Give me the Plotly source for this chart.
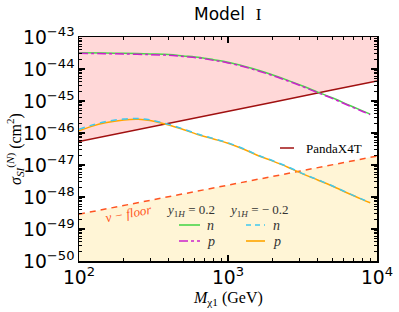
import plotly.graph_objects as go

# ---------------- data ----------------
mass = [100, 150, 200, 300, 400, 500, 650, 800, 1000, 1300, 1600, 2000, 2500,
        3200, 4000, 5000, 6500, 8000, 9000]
mass_low = [100, 120, 150, 200, 250, 300, 400, 500, 650, 800, 1000, 1300, 1600,
            2000, 2500, 3200, 4000, 5000, 6500, 8000, 9000]

# y_1H = 0.2
sig_n_pos = [3.24e-44, 3.16e-44, 3.09e-44, 2.95e-44, 2.82e-44, 2.57e-44, 2.29e-44,
             1.95e-44, 1.62e-44, 1.20e-44, 9.1e-45, 6.5e-45, 4.5e-45, 2.9e-45,
             1.9e-45, 1.26e-45, 7.4e-46, 4.9e-46, 3.9e-46]
sig_p_pos = [3.08e-44, 3.01e-44, 2.95e-44, 2.81e-44, 2.69e-44, 2.45e-44, 2.19e-44,
             1.86e-44, 1.55e-44, 1.15e-44, 8.7e-45, 6.2e-45, 4.3e-45, 2.78e-45,
             1.82e-45, 1.21e-45, 7.1e-46, 4.7e-46, 3.75e-46]
# y_1H = -0.2
sig_n_neg = [1.30e-46, 1.73e-46, 2.26e-46, 2.74e-46, 2.84e-46, 2.57e-46, 1.86e-46,
             1.34e-46, 8.8e-47, 6.7e-47, 4.95e-47, 3.1e-47, 2.0e-47, 1.36e-47,
             8.9e-48, 5.3e-48, 3.47e-48, 2.24e-48, 1.28e-48, 8.4e-49, 6.7e-49]
sig_p_neg = [1.175e-46, 1.585e-46, 2.09e-46, 2.57e-46, 2.69e-46, 2.45e-46, 1.78e-46,
             1.29e-46, 8.5e-47, 6.5e-47, 4.8e-47, 3.0e-47, 1.95e-47, 1.32e-47,
             8.7e-48, 5.2e-48, 3.4e-48, 2.2e-48, 1.26e-48, 8.3e-49, 6.6e-49]

pandax_mass = [100, 200, 500, 1000, 2000, 5000, 10000]
pandax_sig = [5.4e-47, 1.03e-46, 2.45e-46, 4.8e-46, 9.2e-46, 2.2e-45, 4.2e-45]

nu_mass = [100, 1000, 10000]
nu_sig = [2.9e-49, 2.3e-48, 1.9e-47]

Y_TOP = 1e-43
Y_BOT = 1e-50

# ---------------- styles ----------------
C_GREEN = "#4CD64C"
C_MAG = "#CC22CC"
C_CYAN = "#3FC8F0"
C_ORANGE = "#FFA500"
C_RED = "#A01010"
C_NU = "#FF5522"
C_PINK = "#FFD8D8"
C_YEL = "#FFF5D6"

fig = go.Figure()

# shaded regions
fig.add_trace(go.Scatter(
    x=pandax_mass + pandax_mass[::-1],
    y=pandax_sig + [Y_TOP] * len(pandax_mass),
    fill="toself", fillcolor=C_PINK, line=dict(width=0), mode="lines",
    hoverinfo="skip", showlegend=False))
fig.add_trace(go.Scatter(
    x=nu_mass + nu_mass[::-1],
    y=nu_sig + [Y_BOT] * len(nu_mass),
    fill="toself", fillcolor=C_YEL, line=dict(width=0), mode="lines",
    hoverinfo="skip", showlegend=False))

# limits
fig.add_trace(go.Scatter(x=pandax_mass, y=pandax_sig, mode="lines",
                         line=dict(color=C_RED, width=1.5), showlegend=False))
fig.add_trace(go.Scatter(x=nu_mass, y=nu_sig, mode="lines",
                         line=dict(color=C_NU, width=1.5, dash="6px,5px"), showlegend=False))

# model curves
fig.add_trace(go.Scatter(x=mass, y=sig_n_pos, mode="lines", line_shape="spline",
                         line=dict(color=C_GREEN, width=1.5), showlegend=False))
fig.add_trace(go.Scatter(x=mass, y=sig_p_pos, mode="lines", line_shape="spline",
                         line=dict(color=C_MAG, width=1.5, dash="dashdot"), showlegend=False))
fig.add_trace(go.Scatter(x=mass_low, y=sig_p_neg, mode="lines", line_shape="spline",
                         line=dict(color=C_ORANGE, width=1.5), showlegend=False))
fig.add_trace(go.Scatter(x=mass_low, y=sig_n_neg, mode="lines", line_shape="spline",
                         line=dict(color=C_CYAN, width=1.5, dash="6px,5px"), showlegend=False))

# ---------------- axes ----------------
axis_common = dict(
    type="log", showline=True, linecolor="black", linewidth=1.5, mirror="allticks",
    ticks="inside", ticklen=6, tickwidth=1.2, tickcolor="black",
    showgrid=False, zeroline=False, dtick=1, exponentformat="power",
    automargin=False,
    tickfont=dict(family="DejaVu Sans", size=15, color="black"),
    minor=dict(ticks="inside", ticklen=3, tickwidth=1, tickcolor="black",
               showgrid=False, dtick="D1"),
)
fig.update_xaxes(**axis_common, range=[2, 4])
fig.update_yaxes(**axis_common, range=[-50, -43])


def px_x(p):
    return (p - 79) / 298.0


def px_y(p):
    return (261 - p) / 224.0


# ---------------- annotations & legend ----------------
ann = []
ann.append(dict(xref="paper", yref="paper", x=0.5, y=px_y(14), showarrow=False,
                text="Model  <span style='font-family:Liberation Serif'>I</span>",
                font=dict(family="DejaVu Sans", size=17, color="black"),
                xanchor="center", yanchor="middle"))
# axis titles
ann.append(dict(xref="paper", yref="paper", x=0.5, y=px_y(298), showarrow=False,
                text="<i>M</i><sub>χ1</sub> (GeV)", xanchor="center", yanchor="middle",
                font=dict(family="Liberation Serif", size=16, color="black")))
ann.append(dict(xref="paper", yref="paper", x=px_x(15), y=0.5, showarrow=False,
                text="<i>σ</i><sub><i>SI</i></sub><sup>(<i>N</i>)</sup> (cm<sup>2</sup>)",
                textangle=-90, xanchor="center", yanchor="middle",
                font=dict(family="Liberation Serif", size=16, color="black")))
ann.append(dict(xref="x", yref="y", x=2.33, y=-48.5, showarrow=False,
                text="<i>ν − floor</i>", textangle=-11,
                font=dict(family="Liberation Serif", size=13, color=C_NU)))

serif = dict(family="Liberation Serif", size=13, color="black")
serif_s = dict(family="Liberation Serif", size=13, color="#333333")

# PandaX4T
shapes = []
shapes.append(dict(type="line", xref="paper", yref="paper",
                   x0=px_x(280), x1=px_x(294), y0=px_y(148), y1=px_y(148),
                   line=dict(color=C_RED, width=1.5)))
ann.append(dict(xref="paper", yref="paper", x=px_x(304), y=px_y(148), text="PandaX4T",
                showarrow=False, xanchor="left", yanchor="middle", font=serif))

# y_1H legend
ann.append(dict(xref="paper", yref="paper", x=px_x(190), y=px_y(210),
                text="<i>y</i><sub>1<i>H</i></sub> = 0.2", showarrow=False,
                xanchor="center", yanchor="middle", font=serif_s))
ann.append(dict(xref="paper", yref="paper", x=px_x(259), y=px_y(210),
                text="<i>y</i><sub>1<i>H</i></sub> = − 0.2", showarrow=False,
                xanchor="center", yanchor="middle", font=serif_s))
legend_items = [
    (179, 200, 225, C_GREEN, "solid", "n", 205),
    (179, 200, 241, C_MAG, "dashdot", "p", 205),
    (246, 265, 225, C_CYAN, "5px,4px", "n", 271),
    (246, 265, 241, C_ORANGE, "solid", "p", 271),
]
for x0, x1, yy, col, dash, lab, tx in legend_items:
    shapes.append(dict(type="line", xref="paper", yref="paper",
                       x0=px_x(x0), x1=px_x(x1), y0=px_y(yy), y1=px_y(yy),
                       line=dict(color=col, width=1.6, dash=dash)))
    ann.append(dict(xref="paper", yref="paper", x=px_x(tx), y=px_y(yy),
                    text=f"<i>{lab}</i>", showarrow=False, xanchor="left",
                    yanchor="middle", font=dict(family="Liberation Serif", size=14, color="#333333")))

fig.update_layout(
    width=399, height=312,
    margin=dict(l=79, r=22, t=37, b=51),
    paper_bgcolor="white", plot_bgcolor="white",
    annotations=ann, shapes=shapes, showlegend=False,
)

# remove the browser's default 8px body margin so the figure fills the window
fig.write_html("out.html",
               config={"displayModeBar": False, "staticPlot": True},
               post_script="document.body.style.margin='0';document.body.style.overflow='hidden';")
